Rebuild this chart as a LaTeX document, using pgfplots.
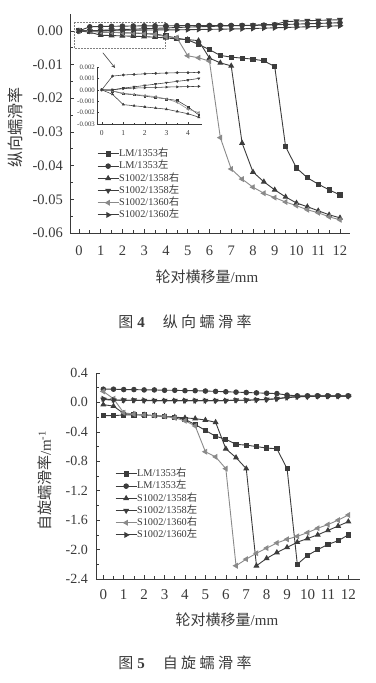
\documentclass[border=0pt]{standalone}
\usepackage{fontspec}
\setmainfont{Liberation Serif}
\newfontfamily\cjk{Noto Sans CJK SC}
\usepackage{pgfplots}
\usepackage{pgfplotstable}
\pgfplotsset{compat=1.18}
\definecolor{ln}{HTML}{3C3C3C}
\definecolor{lt}{HTML}{8A8A8A}
\definecolor{ax}{HTML}{3A3A3A}

\pgfplotstableread{
x    sq       ci       tr       dt       lt       rt
0    0        0        0        0        0        0
0.5  -0.0001  0.0012   -0.0004  0.0000   -0.0001  0.0000
1    -0.00035 0.0013   -0.0013  0.00015  -0.0003  0.0001
1.5  -0.00044 0.00135  -0.0014  0.00026  -0.0004  0.00015
2    -0.00056 0.0014   -0.0015  0.00038  -0.0005  0.00018
2.5  -0.00068 0.00144  -0.0016  0.0005   -0.0006  0.0002
3    -0.0008  0.00147  -0.0017  0.00062  -0.0008  0.00024
3.5  -0.00094 0.0015   -0.0019  0.00074  -0.0011  0.00026
4    -0.0015  0.0015   -0.0021  0.00085  -0.0017  0.00028
4.5  -0.0022  0.00153  -0.0024  0.0010   -0.0020  0.0003
5    -0.0027  0.00155  -0.0026  0.0011   -0.0074  0.00035
5.5  -0.0040  0.00157  -0.0029  0.0012   -0.0080  0.0004
6    -0.0056  0.0016   -0.0081  0.0013   -0.0090  0.00045
6.5  -0.0073  0.0016   -0.0095  0.0014   -0.0317  0.0005
7    -0.0078  0.0016   -0.0104  0.0015   -0.0410  0.00055
7.5  -0.0081  0.0016   -0.0333  0.0016   -0.0440  0.0006
8    -0.0084  0.0016   -0.0419  0.0017   -0.0464  0.0007
8.5  -0.0089  0.0017   -0.0448  0.0018   -0.0482  0.0008
9    -0.0106  0.0018   -0.0472  0.0019   -0.0495  0.0009
9.5  -0.0344  0.0019   -0.0493  0.0027   -0.0508  0.0010
10   -0.0407  0.0020   -0.0511  0.0029   -0.0519  0.0011
10.5 -0.0436  0.0021   -0.0522  0.0030   -0.0531  0.0012
11   -0.0455  0.0022   -0.0534  0.0031   -0.0540  0.0013
11.5 -0.0472  0.0023   -0.0546  0.0032   -0.0552  0.0014
12   -0.0487  0.0024   -0.0555  0.0033   -0.0561  0.0015
}\longi

\pgfplotstableread{
x    sq     ci     tr     dt     lt     rt
0    -0.18  0.18   -0.03  0.04   0.15   0.05
0.5  -0.18  0.18   -0.05  0.03   0.05   0.035
1    -0.17  0.175  -0.15  0.03   -0.14  0.03
1.5  -0.17  0.175  -0.16  0.03   -0.16  0.03
2    -0.17  0.17   -0.17  0.025  -0.17  0.03
2.5  -0.18  0.17   -0.18  0.025  -0.18  0.025
3    -0.19  0.165  -0.19  0.025  -0.19  0.025
3.5  -0.20  0.165  -0.20  0.025  -0.21  0.025
4    -0.23  0.16   -0.21  0.025  -0.25  0.025
4.5  -0.30  0.16   -0.22  0.025  -0.32  0.025
5    -0.38  0.155  -0.24  0.025  -0.67  0.025
5.5  -0.46  0.15   -0.27  0.025  -0.74  0.025
6    -0.50  0.145  -0.63  0.025  -0.90  0.025
6.5  -0.57  0.14   -0.75  0.03   -2.22  0.03
7    -0.58  0.135  -0.90  0.03   -2.13  0.03
7.5  -0.60  0.13   -2.22  0.035  -2.05  0.035
8    -0.62  0.125  -2.12  0.04   -1.98  0.04
8.5  -0.63  0.12   -2.04  0.05   -1.91  0.05
9    -0.90  0.10   -1.97  0.07   -1.86  0.065
9.5  -2.20  0.09   -1.90  0.08   -1.82  0.075
10   -2.08  0.09   -1.85  0.08   -1.77  0.08
10.5 -2.00  0.09   -1.80  0.085  -1.71  0.085
11   -1.93  0.09   -1.74  0.085  -1.66  0.085
11.5 -1.88  0.09   -1.68  0.085  -1.60  0.085
12   -1.80  0.09   -1.62  0.085  -1.53  0.085
}\spin

\pgfplotsset{
  base/.style={
    scale only axis, axis lines=left,
    axis line style={-, ax, line width=0.8bp},
    tick align=inside, major tick length=4bp, minor tick length=2.5bp,
    every tick/.style={ax, line width=0.6bp},
    /pgf/number format/assume math mode=true,
    scaled y ticks=false, clip=false,
    tick label style={text=ax},
    xticklabel style={anchor=center, inner sep=0pt},
    yticklabel style={anchor=east, inner sep=0pt},
    legend cell align=left,
    legend image code/.code={\draw[mark repeat=2,mark phase=2] plot coordinates {(0bp,0bp) (10.5bp,0bp) (21bp,0bp)};},
    legend style={draw=none, fill=none, inner sep=0pt, row sep=2.7bp,
      font=\fontsize{10.3bp}{11bp}\selectfont, text=ax,
      nodes={inner sep=0pt, text height=7.5bp, text depth=2bp, xshift=1bp}},
  },
  ser/.style={line width=0.9bp, color=ln, mark size=2.3bp},
  sq/.style={ser, mark=square*, mark size=2.1bp},
  ci/.style={ser, mark=*},
  tr/.style={ser, mark=triangle*, mark size=2.6bp},
  dt/.style={ser, mark=triangle*, mark size=2.6bp, mark options={rotate=180}},
  lt/.style={ser, color=lt, mark=triangle*, mark size=2.6bp, mark options={rotate=90}},
  rt/.style={ser, mark=triangle*, mark size=2.6bp, mark options={rotate=-90}},
}

\begin{document}
\begin{tikzpicture}
\path[use as bounding box] (0,0) rectangle (376bp,683bp);

% ---------------- Figure 4 ----------------
\begin{axis}[base,
  at={(70bp,450bp)}, anchor=south west, width=280bp, height=219bp,
  xmin=-0.41, xmax=12.46, ymin=-0.06, ymax=0.005,
  xtick={0,1,...,12}, ytick={-0.06,-0.05,-0.04,-0.03,-0.02,-0.01,0},
  minor x tick num=1, minor y tick num=1,
  xticklabel style={yshift=-18bp, font=\fontsize{14.5bp}{16bp}\selectfont},
  yticklabel style={xshift=-7bp, font=\fontsize{14.5bp}{16bp}\selectfont,
    /pgf/number format/.cd, fixed, fixed zerofill, precision=2},
  xlabel={{\cjk 轮对横移量}/mm},
  xlabel style={at={(axis description cs:0.489,-0.201)}, anchor=center, text=ax, font=\fontsize{15bp}{16bp}\selectfont},
  ylabel={\cjk 纵向蠕滑率},
  ylabel style={at={(axis description cs:-0.196,0.484)}, anchor=center, text=ax, font=\fontsize{16bp}{17bp}\selectfont},
  legend style={at={(axis description cs:0.0964,0.3836)}, anchor=north west},
]
\addplot[sq] table[x=x,y=sq] {\longi};
\addlegendentry{LM/1353{\cjk 右}}
\addplot[ci] table[x=x,y=ci] {\longi};
\addlegendentry{LM/1353{\cjk 左}}
\addplot[tr] table[x=x,y=tr] {\longi};
\addlegendentry{S1002/1358{\cjk 右}}
\addplot[dt] table[x=x,y=dt] {\longi};
\addlegendentry{S1002/1358{\cjk 左}}
\addplot[lt] table[x=x,y=lt] {\longi};
\addlegendentry{S1002/1360{\cjk 右}}
\addplot[rt] table[x=x,y=rt] {\longi};
\addlegendentry{S1002/1360{\cjk 左}}
\draw[densely dotted, gray, line width=0.5bp] (axis cs:-0.23,0.00267) rectangle (axis cs:3.95,-0.00504);
\draw[-stealth, ln, line width=0.6bp] (axis cs:1.10,-0.0065) -- (axis cs:1.66,-0.0110);
\end{axis}

% inset
\begin{axis}[base,
  at={(97bp,559bp)}, anchor=south west, width=105bp, height=57bp,
  xmin=-0.22, xmax=4.65, ymin=-0.003, ymax=0.002,
  axis line style={-, ax, line width=0.5bp},
  every tick/.style={ax, line width=0.4bp},
  major tick length=2bp, minor tick length=1.2bp,
  xtick={0,1,2,3,4}, ytick={-0.003,-0.002,-0.001,0,0.001,0.002},
  minor x tick num=1,
  xticklabel style={yshift=-9bp, font=\fontsize{7.5bp}{8bp}\selectfont},
  yticklabel style={xshift=-2bp, font=\fontsize{6.8bp}{7bp}\selectfont,
    /pgf/number format/.cd, fixed, fixed zerofill, precision=3},
  ser/.style={line width=0.55bp, color=ln, mark size=1.1bp},
  every axis plot/.append style={restrict x to domain=0:4.5},
]
\addplot[sq, mark size=0.9bp] table[x=x,y=sq] {\longi};
\addplot[ci] table[x=x,y=ci] {\longi};
\addplot[tr, mark size=1.2bp] table[x=x,y=tr] {\longi};
\addplot[dt, mark size=1.2bp] table[x=x,y=dt] {\longi};
\addplot[lt, mark size=1.2bp] table[x=x,y=lt] {\longi};
\addplot[rt, mark size=1.2bp] table[x=x,y=rt] {\longi};
\end{axis}

\node[text=ax, font=\fontsize{15bp}{16bp}\selectfont] at (185bp,361bp)
  {{\cjk 图}\hspace{4bp}\textbf{4}\hspace{18bp}{\cjk 纵\hspace{3.5bp}向\hspace{3.5bp}蠕\hspace{3.5bp}滑\hspace{3.5bp}率}};

% ---------------- Figure 5 ----------------
\begin{axis}[base,
  at={(96bp,104bp)}, anchor=south west, width=264bp, height=206bp,
  xmin=-0.357, xmax=12.57, ymin=-2.4, ymax=0.4,
  xtick={0,1,...,12}, ytick={-2.4,-2.0,-1.6,-1.2,-0.8,-0.4,0,0.4},
  minor x tick num=1, minor y tick num=1,
  xticklabel style={yshift=-16bp, font=\fontsize{15bp}{16bp}\selectfont},
  yticklabel style={xshift=-8bp, font=\fontsize{14bp}{15bp}\selectfont,
    /pgf/number format/.cd, fixed, fixed zerofill, precision=1},
  xlabel={{\cjk 轮对横移量}/mm},
  xlabel style={at={(axis description cs:0.496,-0.199)}, anchor=center, text=ax, font=\fontsize{15bp}{16bp}\selectfont},
  ylabel={{\cjk 自旋蠕滑率}/m\textsuperscript{-1}},
  ylabel style={at={(axis description cs:-0.193,0.476)}, anchor=center, text=ax, font=\fontsize{15bp}{16bp}\selectfont},
  legend style={at={(axis description cs:0.072,0.534)}, anchor=north west},
]
\addplot[sq] table[x=x,y=sq] {\spin};
\addlegendentry{LM/1353{\cjk 右}}
\addplot[ci] table[x=x,y=ci] {\spin};
\addlegendentry{LM/1353{\cjk 左}}
\addplot[tr] table[x=x,y=tr] {\spin};
\addlegendentry{S1002/1358{\cjk 右}}
\addplot[dt] table[x=x,y=dt] {\spin};
\addlegendentry{S1002/1358{\cjk 左}}
\addplot[lt] table[x=x,y=lt] {\spin};
\addlegendentry{S1002/1360{\cjk 右}}
\addplot[rt] table[x=x,y=rt] {\spin};
\addlegendentry{S1002/1360{\cjk 左}}
\end{axis}

\node[text=ax, font=\fontsize{15bp}{16bp}\selectfont] at (185bp,20bp)
  {{\cjk 图}\hspace{4bp}\textbf{5}\hspace{18bp}{\cjk 自\hspace{3.5bp}旋\hspace{3.5bp}蠕\hspace{3.5bp}滑\hspace{3.5bp}率}};
\end{tikzpicture}
\end{document}
